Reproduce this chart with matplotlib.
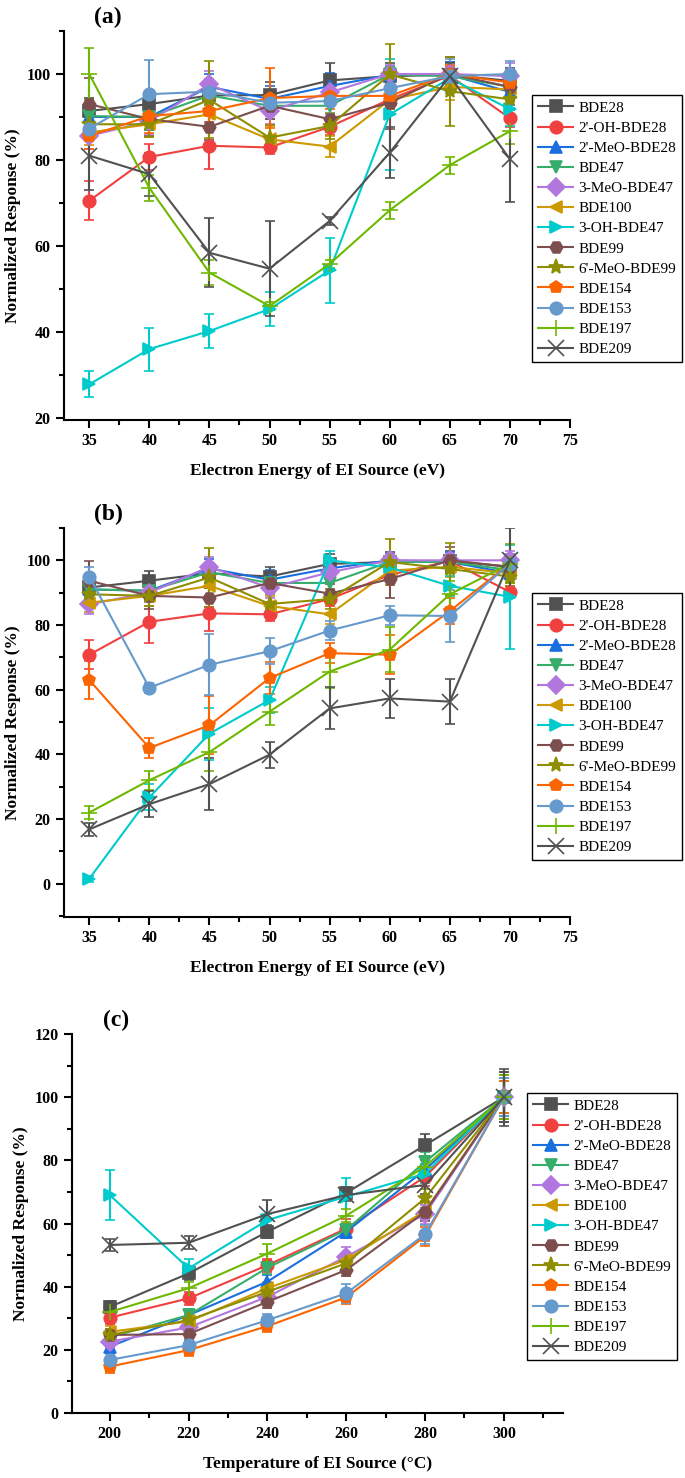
import numpy as np
import matplotlib
matplotlib.use('Agg')
import matplotlib.pyplot as plt
from matplotlib.ticker import MultipleLocator
from matplotlib.lines import Line2D

plt.rcParams['font.family'] = ['Liberation Serif', 'DejaVu Serif']

### series names and styles
names = ['BDE28', "2'-OH-BDE28", "2'-MeO-BDE28", 'BDE47', '3-MeO-BDE47', 'BDE100',
         '3-OH-BDE47', 'BDE99', "6'-MeO-BDE99", 'BDE154', 'BDE153', 'BDE197', 'BDE209']
colors = ['#515151', '#F14040', '#1A6FDF', '#37AD6B', '#B177DE', '#CC9900',
          '#00CBCC', '#7D4E4E', '#8E8E00', '#FB6501', '#6699CC', '#6FB802', '#515151']
markers = ['s', 'o', '^', 'v', 'D', '<', '>', 'H', '*', 'p', 'o', '+', 'x']

### (a) electron energy
energy = [35, 40, 45, 50, 55, 60, 65, 70]
a_vals = [
    [91.4, 93.0, 95.0, 95.1, 98.5, 99.5, 99.8, 98.4],
    [70.5, 80.7, 83.3, 82.9, 87.7, 94.1, 99.6, 89.7],
    [90.0, 90.0, 97.0, 94.2, 97.2, 99.8, 99.8, 95.8],
    [90.2, 90.0, 95.0, 92.6, 92.6, 99.9, 99.5, 97.0],
    [85.6, 89.0, 97.6, 91.4, 95.7, 100.0, 100.0, 99.5],
    [86.4, 88.3, 90.6, 84.8, 83.1, 94.0, 97.0, 96.4],
    [27.8, 36.0, 40.2, 45.3, 54.3, 90.6, 99.0, 91.8],
    [93.0, 89.5, 87.7, 92.6, 89.5, 93.3, 100.0, 97.0],
    [88.3, 88.3, 94.0, 85.2, 87.9, 99.9, 96.0, 94.1],
    [85.6, 90.2, 91.4, 94.4, 94.9, 94.9, 100.0, 98.0],
    [87.3, 95.3, 95.9, 93.3, 93.7, 96.7, 99.5, 100.0],
    [100.0, 73.5, 53.8, 46.0, 55.8, 68.3, 78.8, 86.7],
    [81.0, 76.7, 58.4, 54.7, 65.8, 81.7, 99.5, 80.2],
]
a_errs = [
    [3, 3, 3, 3, 4, 3, 3, 3],
    [4.5, 3, 5.5, 1.5, 2, 2, 2, 2],
    [3, 3, 3, 3, 3, 2, 3, 3],
    [2, 3, 2, 3, 3, 2, 2, 3],
    [3, 3, 3, 3, 3, 2, 2, 3],
    [3, 3, 3, 3, 2.5, 3, 3, 3],
    [3, 5, 4, 4, 7.5, 13, 2, 4],
    [6, 4, 3, 3, 3, 6, 4, 3],
    [3, 3, 9, 3, 3, 7, 8, 2],
    [3, 4, 4, 7, 3, 3, 2, 3],
    [3, 8, 3, 3, 3, 3, 4, 3],
    [6, 3, 3, 1, 1, 2, 2, 3],
    [8, 5, 8, 11, 1, 6, 3, 10],
]

### (b) electron energy, second set
b_vals = [
    [91.6, 93.7, 96.0, 95.0, 98.9, 99.5, 99.8, 98.0],
    [70.8, 81.0, 83.6, 83.3, 88.0, 95.5, 99.8, 90.2],
    [91.0, 90.6, 97.5, 94.0, 97.5, 100.0, 99.5, 96.0],
    [91.0, 90.6, 96.3, 93.0, 93.0, 99.5, 99.5, 97.0],
    [86.4, 90.0, 98.0, 91.5, 96.3, 100.0, 100.0, 100.0],
    [86.9, 89.0, 92.1, 85.9, 83.3, 96.8, 98.0, 96.0],
    [1.5, 26.7, 46.4, 56.8, 100.0, 97.8, 92.1, 88.7],
    [93.7, 89.0, 88.5, 93.0, 89.7, 94.2, 100.0, 98.0],
    [89.5, 89.0, 94.7, 86.5, 88.0, 99.5, 97.3, 95.0],
    [63.0, 42.0, 49.0, 63.6, 71.3, 70.8, 84.3, 99.0],
    [95.0, 60.6, 67.7, 71.9, 78.3, 83.0, 82.8, 99.0],
    [22.0, 32.0, 40.7, 53.2, 65.6, 72.4, 89.5, 99.0],
    [16.8, 24.6, 30.8, 39.9, 54.2, 57.3, 56.3, 100.0],
]
b_errs = [
    [3, 3, 3, 3, 3, 3, 3, 3],
    [4.5, 6.5, 5.5, 2, 2, 2, 2, 2],
    [3, 3, 3, 3, 3, 2, 3, 3],
    [2, 3, 3, 3, 3, 2, 2, 3],
    [3, 3, 3, 3, 3, 2, 2, 3],
    [3, 3, 3, 3, 3, 3, 3, 3],
    [1, 4, 8, 4, 3, 4, 3, 16],
    [6, 4, 3, 3, 3, 6, 4, 3],
    [3, 3, 9, 3, 3, 7, 8, 3],
    [6, 3, 9, 5, 3, 6, 4, 3],
    [3, 1.5, 9.5, 4, 3, 3, 8, 3],
    [2, 3, 6, 4, 5, 7, 4, 6],
    [2, 4, 8, 4, 6.5, 6, 7, 10],
]

### (c) source temperature
temp = [200, 220, 240, 260, 280, 300]
c_vals = [
    [33.6, 44.2, 57.4, 69.7, 84.8, 100],
    [30.2, 36.3, 46.8, 58.4, 74.8, 100],
    [21.0, 31.0, 41.6, 57.4, 77.0, 100],
    [24.0, 31.0, 46.0, 58.0, 79.5, 100],
    [22.6, 27.1, 36.8, 49.5, 63.0, 100],
    [25.7, 29.0, 39.5, 48.5, 64.0, 100],
    [69.0, 45.8, 61.1, 68.5, 75.8, 100],
    [24.7, 25.0, 35.2, 45.3, 63.7, 100],
    [24.7, 29.4, 38.4, 47.4, 68.0, 100],
    [14.7, 19.9, 27.5, 36.6, 56.0, 100],
    [16.8, 21.5, 29.4, 37.9, 56.6, 100],
    [32.0, 39.5, 50.5, 62.5, 78.0, 100],
    [53.2, 53.9, 63.0, 69.0, 72.2, 100],
]
c_errs = [
    [2, 2, 2, 2, 3.5, 9],
    [2, 2, 2, 3, 3, 7],
    [2, 2, 2, 2, 3, 6],
    [2, 2, 2, 2, 3, 5],
    [2, 2, 2, 3, 3, 6],
    [2, 2, 2, 2, 3, 7],
    [8, 3, 2, 6, 3, 6],
    [2, 2, 2, 2, 3, 8],
    [2, 2, 2, 2, 3, 7],
    [2, 2, 2, 2, 3, 5],
    [2, 2, 2, 3, 3, 6],
    [2, 2, 3, 2, 3, 7],
    [2, 2, 4.5, 2, 3, 8],
]

fig = plt.figure(figsize=(6.85, 14.78), dpi=100)
W, H = 685.0, 1478.0


def msize(m):
    return 11 if m in ('*', '+', 'x') else 9


def panel(rect, x, vals, errs, xlim, ylim, xmaj, xmin, ymaj, ymin, xlabel, tag, leg_xy):
    l, t, r, b = rect
    ax = fig.add_axes([l / W, 1 - b / H, (r - l) / W, (b - t) / H])
    handles = []
    for i in range(len(names)):
        ax.errorbar(x, vals[i], yerr=errs[i], color=colors[i], marker=markers[i],
                    markersize=msize(markers[i]), markeredgewidth=1.2, lw=1.5,
                    elinewidth=1.5, capsize=3.5, capthick=1.5, zorder=3)
        handles.append(Line2D([], [], color=colors[i], marker=markers[i],
                              markersize=msize(markers[i]), markeredgewidth=1.2,
                              lw=1.5, label=names[i]))
    ax.set_xlim(*xlim)
    ax.set_ylim(*ylim)
    ax.spines['top'].set_visible(False)
    ax.spines['right'].set_visible(False)
    for s in ('left', 'bottom'):
        ax.spines[s].set_linewidth(1.5)
    ax.xaxis.set_major_locator(MultipleLocator(xmaj))
    ax.xaxis.set_minor_locator(MultipleLocator(xmin))
    ax.yaxis.set_major_locator(MultipleLocator(ymaj))
    ax.yaxis.set_minor_locator(MultipleLocator(ymin))
    ax.tick_params(which='major', length=6, width=1.5, labelsize=11.5)
    ax.tick_params(which='minor', length=3.5, width=1.5)
    for lab in ax.get_xticklabels() + ax.get_yticklabels():
        lab.set_fontweight('bold')
    ax.set_xlabel(xlabel, fontsize=12.5, fontweight='bold', labelpad=10)
    ax.set_ylabel('Normalized Response (%)', fontsize=12.5, fontweight='bold')
    fig.text((l + 44) / W, 1 - (t - 14) / H, tag, fontsize=17, fontweight='bold',
             ha='center', va='center')
    leg = ax.legend(handles=handles, loc='upper left',
                    bbox_to_anchor=(leg_xy[0] / W, 1 - leg_xy[1] / H),
                    bbox_transform=fig.transFigure, fontsize=11, frameon=True,
                    fancybox=False, edgecolor='black', framealpha=1,
                    labelspacing=0.42, handlelength=2.3, handletextpad=0.35,
                    borderpad=0.4, borderaxespad=0)
    leg.get_frame().set_linewidth(1.0)
    return ax


axa = panel((64, 31, 570, 420), energy, a_vals, a_errs, (32.9, 75), (19.5, 110),
            5, 2.5, 20, 10, 'Electron Energy of EI Source (eV)', '(a)', (532, 95))
axa.set_xticks([35, 40, 45, 50, 55, 60, 65, 70, 75])

axb = panel((64, 528, 570, 917), energy, b_vals, b_errs, (32.9, 75), (-10.3, 110),
            5, 2.5, 20, 10, 'Electron Energy of EI Source (eV)', '(b)', (532, 593))

axc = panel((72, 1034, 563, 1413), temp, c_vals, c_errs, (190.4, 315), (0, 120),
            20, 10, 20, 10, 'Temperature of EI Source (°C)', '(c)', (527, 1093))
axc.set_xticks([200, 220, 240, 260, 280, 300])

fig.savefig('out.png', dpi=100)
